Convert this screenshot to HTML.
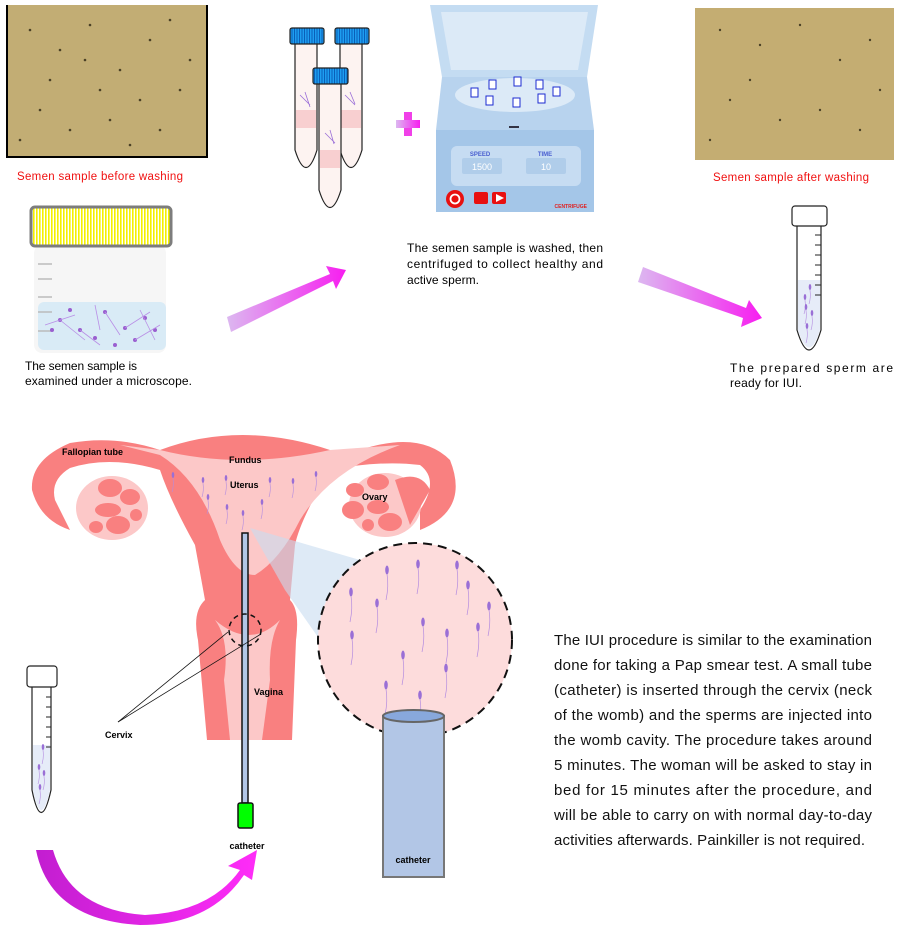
<!DOCTYPE html>
<html><head><meta charset="utf-8"><style>
html,body{margin:0;padding:0;background:#fff;}
svg{display:block;font-family:"Liberation Sans",sans-serif;}
.c{font-family:"Liberation Sans",sans-serif;}
</style></head><body>
<svg width="903" height="930" viewBox="0 0 903 930" xmlns="http://www.w3.org/2000/svg">
<defs>
<linearGradient id="ag" x1="0" y1="0" x2="1" y2="0"><stop offset="0" stop-color="#dcb8f0"/><stop offset="1" stop-color="#f71ef0"/></linearGradient>
<linearGradient id="cg" x1="0" y1="0" x2="1" y2="0"><stop offset="0" stop-color="#c21ed0"/><stop offset="1" stop-color="#ff2cf8"/></linearGradient>
<pattern id="yl" width="3" height="10" patternUnits="userSpaceOnUse"><rect width="3" height="10" fill="#fff"/><rect width="1.6" height="10" fill="#f4f000"/></pattern>
<pattern id="bl" width="2.5" height="10" patternUnits="userSpaceOnUse"><rect width="2.5" height="10" fill="#0a5fb8"/><rect width="1.5" height="10" fill="#1d9df0"/></pattern>
<g id="sp"><ellipse cx="0" cy="0" rx="1.8" ry="4.5" fill="#9a6fd6"/><path d="M0 4 q2 12 -1 26" stroke="#b48ce0" stroke-width="0.7" fill="none"/></g>
<g id="ss"><ellipse cx="0" cy="0" rx="1.3" ry="3" fill="#9a6fd6"/><path d="M0 3 q1 8 -1 14" stroke="#b48ce0" stroke-width="0.6" fill="none"/></g>
</defs>

<rect x="6" y="5" width="202" height="153" fill="#000"/>
<rect x="8" y="5" width="198" height="151" fill="#c2ad74"/>
<rect x="695" y="8" width="199" height="152" fill="#c4ad72"/>
<g fill="#4a4026">
<circle cx="30" cy="30" r="1.3"/><circle cx="60" cy="50" r="1.3"/><circle cx="90" cy="25" r="1.3"/><circle cx="120" cy="70" r="1.3"/><circle cx="150" cy="40" r="1.3"/><circle cx="180" cy="90" r="1.3"/><circle cx="40" cy="110" r="1.3"/><circle cx="70" cy="130" r="1.3"/><circle cx="110" cy="120" r="1.3"/><circle cx="160" cy="130" r="1.3"/><circle cx="190" cy="60" r="1.3"/><circle cx="50" cy="80" r="1.3"/><circle cx="140" cy="100" r="1.3"/><circle cx="100" cy="90" r="1.3"/><circle cx="20" cy="140" r="1.3"/><circle cx="85" cy="60" r="1.3"/><circle cx="170" cy="20" r="1.3"/><circle cx="130" cy="145" r="1.3"/>
<circle cx="720" cy="30" r="1.2"/><circle cx="760" cy="45" r="1.2"/><circle cx="800" cy="25" r="1.2"/><circle cx="840" cy="60" r="1.2"/><circle cx="870" cy="40" r="1.2"/><circle cx="730" cy="100" r="1.2"/><circle cx="780" cy="120" r="1.2"/><circle cx="820" cy="110" r="1.2"/><circle cx="860" cy="130" r="1.2"/><circle cx="750" cy="80" r="1.2"/><circle cx="880" cy="90" r="1.2"/><circle cx="710" cy="140" r="1.2"/>
</g>
<text x="100" y="180" font-size="11.5" fill="#f01010" text-anchor="middle" textLength="166">Semen sample before washing</text>
<text x="791" y="181" font-size="11.5" fill="#f01010" text-anchor="middle" textLength="156">Semen sample after washing</text>

<rect x="34" y="245" width="132" height="108" rx="8" fill="#f6f6f6"/>
<rect x="38" y="302" width="128" height="48" rx="6" fill="#d9ebf6"/>
<g stroke="#bbb" stroke-width="1.5"><line x1="38" y1="264" x2="52" y2="264"/><line x1="38" y1="279" x2="52" y2="279"/><line x1="38" y1="297" x2="52" y2="297"/><line x1="38" y1="312" x2="52" y2="312"/><line x1="38" y1="331" x2="52" y2="331"/></g>
<g fill="#9a5fd0"><circle cx="60" cy="320" r="2"/><circle cx="80" cy="330" r="2"/><circle cx="105" cy="312" r="2"/><circle cx="125" cy="328" r="2"/><circle cx="145" cy="318" r="2"/><circle cx="95" cy="338" r="2"/><circle cx="70" cy="310" r="2"/><circle cx="135" cy="340" r="2"/><circle cx="155" cy="330" r="2"/><circle cx="52" cy="330" r="2"/><circle cx="115" cy="345" r="2"/></g>
<g stroke="#b98ee6" stroke-width="0.8"><line x1="45" y1="325" x2="75" y2="315"/><line x1="80" y1="330" x2="100" y2="345"/><line x1="105" y1="312" x2="120" y2="335"/><line x1="125" y1="328" x2="150" y2="312"/><line x1="60" y1="320" x2="85" y2="340"/><line x1="135" y1="340" x2="160" y2="325"/><line x1="95" y1="305" x2="100" y2="330"/><line x1="140" y1="310" x2="155" y2="340"/></g>
<rect x="31" y="207" width="140" height="39" fill="url(#yl)" stroke="#7d7d7d" stroke-width="3" rx="4"/>
<text x="25" y="370" font-size="12" textLength="112">The semen sample is</text>
<text x="25" y="385" font-size="12" textLength="167">examined under a microscope.</text>

<polygon points="227,317 330,274 326,266 346,270 336,289 333,281 231,332" fill="url(#ag)"/>
<polygon points="643,267 746,308 749,300 762,318 741,327 743,318 638,282" fill="url(#ag)"/>

<g stroke="#222" stroke-width="1.2">
<path d="M295 44 L295 150 Q306 185 317 150 L317 44" fill="#fdf3f1"/>
<rect x="296" y="110" width="20" height="18" fill="#f8cfd0" stroke="none"/>
<path d="M340 44 L340 150 Q351 185 362 150 L362 44" fill="#fdf3f1"/>
<rect x="341" y="110" width="20" height="18" fill="#f8cfd0" stroke="none"/>
<path d="M319 84 L319 190 Q330 225 341 190 L341 84" fill="#fdf3f1"/>
<rect x="320" y="150" width="20" height="18" fill="#f8cfd0" stroke="none"/>
<rect x="290" y="28" width="34" height="16" rx="2" fill="url(#bl)"/>
<rect x="335" y="28" width="34" height="16" rx="2" fill="url(#bl)"/>
<rect x="313" y="68" width="35" height="16" rx="2" fill="url(#bl)"/>
</g>
<g stroke="#9b6fd8" stroke-width="0.8"><path d="M300 95 l10 10 M305 92 l5 15 M345 95 l10 10 M350 92 l5 12 M325 133 l10 10 M330 130 l4 14"/></g>
<rect x="404" y="112" width="8" height="24" fill="#f040e8"/><rect x="396" y="120" width="24" height="8" fill="url(#ag)"/>

<polygon points="430,5 598,5 587,77 442,77" fill="#c4dcf2"/>
<polygon points="441,12 588,12 578,70 451,70" fill="#dceaf7"/>
<polygon points="442,77 587,77 594,130 436,130" fill="#b8d3ee"/>
<ellipse cx="515" cy="95" rx="60" ry="17" fill="#dceaf7"/>
<g fill="#fff" stroke="#1b2bd0" stroke-width="1"><rect x="471" y="88" width="7" height="9"/><rect x="489" y="80" width="7" height="9"/><rect x="514" y="77" width="7" height="9"/><rect x="536" y="80" width="7" height="9"/><rect x="553" y="87" width="7" height="9"/><rect x="486" y="96" width="7" height="9"/><rect x="513" y="98" width="7" height="9"/><rect x="538" y="94" width="7" height="9"/></g>
<rect x="509" y="126" width="10" height="2" fill="#334"/>
<rect x="436" y="130" width="158" height="82" fill="#a4c6e8"/>
<rect x="451" y="146" width="130" height="40" rx="6" fill="#c6dcf2"/>
<text x="480" y="156" font-size="6" fill="#4a5fd0" text-anchor="middle" font-weight="bold">SPEED</text>
<text x="545" y="156" font-size="6" fill="#4a5fd0" text-anchor="middle" font-weight="bold">TIME</text>
<rect x="462" y="158" width="40" height="16" rx="2" fill="#b0cdea"/><rect x="526" y="158" width="40" height="16" rx="2" fill="#b0cdea"/>
<text x="482" y="170" font-size="9" fill="#fff" text-anchor="middle">1500</text>
<text x="546" y="170" font-size="9" fill="#fff" text-anchor="middle">10</text>
<circle cx="455" cy="199" r="9" fill="#e81010"/><circle cx="455" cy="199" r="4.5" fill="none" stroke="#fff" stroke-width="1.8"/>
<rect x="474" y="192" width="14" height="12" rx="2" fill="#e81010"/><rect x="492" y="192" width="14" height="12" rx="2" fill="#e81010"/>
<polygon points="496,194 504,198 496,202" fill="#fff"/>
<text x="587" y="208" font-size="5" fill="#e02020" text-anchor="end" font-weight="bold">CENTRIFUGE</text>
<g font-size="12"><text x="407" y="252" textLength="196">The semen sample is washed, then</text>
<text x="407" y="268" textLength="196">centrifuged to collect healthy and</text>
<text x="407" y="284" textLength="72">active sperm.</text></g>

<path d="M797 226 L797 330 Q809 370 821 330 L821 226" fill="#fff" stroke="#222" stroke-width="1.2"/>
<path d="M798 280 L820 280 L820 330 Q809 365 798 330 Z" fill="#e6ecf8"/>
<rect x="792" y="206" width="35" height="20" rx="3" fill="#fff" stroke="#222" stroke-width="1.2"/>
<g stroke="#222"><path d="M815 235h6M815 245h6M815 255h6M815 265h6M815 275h6M815 285h6M815 295h6"/></g>
<g><use href="#ss" x="810" y="287"/><use href="#ss" x="805" y="297"/><use href="#ss" x="806" y="307"/><use href="#ss" x="812" y="313"/><use href="#ss" x="807" y="326"/></g>
<g font-size="12"><text x="730" y="372" textLength="163">The prepared sperm are</text><text x="730" y="387" textLength="72">ready for IUI.</text></g>

<g fill="#f98080">
<path d="M160 450 Q240 420 330 450 L360 450 Q420 430 450 460 Q470 510 420 530 L420 510 Q440 480 420 465 Q380 460 330 470 Q300 520 295 545 L290 600 Q300 610 296 640 L292 740 L207 740 L198 640 Q192 612 205 600 L195 545 Q170 500 160 470 Q110 455 70 468 Q50 480 55 500 L70 530 Q40 520 32 490 Q30 460 70 443 Q115 435 160 450 Z"/>
</g>
<path d="M160 450 Q240 470 330 450 L400 445 Q330 470 300 520 Q280 560 255 575 Q235 575 220 540 Q200 480 160 455 L120 445 Z" fill="#fcc8c8"/>
<path d="M215 620 Q230 640 224 680 L230 740 L262 740 L270 680 Q268 640 280 620 Q250 650 215 620 Z" fill="#fcc8c8"/>
<ellipse cx="112" cy="508" rx="36" ry="32" fill="#fcc8c8"/>
<ellipse cx="385" cy="505" rx="36" ry="32" fill="#fcc8c8"/>
<g fill="#f98080"><ellipse cx="110" cy="488" rx="12" ry="9"/><ellipse cx="130" cy="497" rx="10" ry="8"/><ellipse cx="108" cy="510" rx="13" ry="7"/><ellipse cx="118" cy="525" rx="12" ry="9"/><ellipse cx="96" cy="527" rx="7" ry="6"/><ellipse cx="136" cy="515" rx="6" ry="6"/>
<ellipse cx="378" cy="482" rx="11" ry="8"/><ellipse cx="355" cy="490" rx="9" ry="7"/><ellipse cx="353" cy="510" rx="11" ry="9"/><ellipse cx="378" cy="507" rx="11" ry="7"/><ellipse cx="390" cy="522" rx="12" ry="9"/><ellipse cx="368" cy="525" rx="6" ry="6"/><path d="M395 480 Q420 470 430 490 L410 525 Z"/></g>
<g><use href="#ss" x="173" y="475"/><use href="#ss" x="203" y="480"/><use href="#ss" x="226" y="478"/><use href="#ss" x="270" y="480"/><use href="#ss" x="293" y="481"/><use href="#ss" x="316" y="474"/><use href="#ss" x="208" y="497"/><use href="#ss" x="227" y="507"/><use href="#ss" x="243" y="513"/><use href="#ss" x="262" y="502"/></g>
<polygon points="250,528 360,560 320,640 285,590" fill="#c8dcf0" opacity="0.6"/>
<circle cx="415" cy="640" r="97" fill="#fddcdc" stroke="#111" stroke-width="2" stroke-dasharray="9,6"/>
<g><use href="#sp" x="418" y="564"/><use href="#sp" x="387" y="570"/><use href="#sp" x="351" y="592"/><use href="#sp" x="377" y="603"/><use href="#sp" x="457" y="565"/><use href="#sp" x="468" y="585"/><use href="#sp" x="489" y="606"/><use href="#sp" x="352" y="635"/><use href="#sp" x="423" y="622"/><use href="#sp" x="447" y="633"/><use href="#sp" x="478" y="627"/><use href="#sp" x="403" y="655"/><use href="#sp" x="446" y="668"/><use href="#sp" x="386" y="685"/><use href="#sp" x="420" y="695"/></g>
<rect x="383" y="716" width="61" height="161" fill="#b2c6e6" stroke="#777" stroke-width="2"/>
<ellipse cx="413.5" cy="716" rx="30.5" ry="6" fill="#88a8dc" stroke="#666" stroke-width="2"/>
<text x="413" y="863" font-size="9" text-anchor="middle" font-weight="bold">catheter</text>
<rect x="242" y="533" width="6" height="270" fill="#b2c6e6" stroke="#111" stroke-width="1.5"/>
<rect x="238" y="803" width="15" height="25" rx="2" fill="#00ff00" stroke="#111" stroke-width="1.5"/>
<text x="247" y="849" font-size="9" text-anchor="middle" font-weight="bold">catheter</text>
<circle cx="245" cy="630" r="16" fill="none" stroke="#111" stroke-width="1.5" stroke-dasharray="5,4"/>
<g stroke="#111" stroke-width="0.8"><line x1="118" y1="722" x2="228" y2="632"/><line x1="118" y1="722" x2="261" y2="634"/></g>
<g font-size="9" font-weight="bold"><text x="62" y="455">Fallopian tube</text><text x="229" y="463">Fundus</text><text x="230" y="488">Uterus</text><text x="362" y="500">Ovary</text><text x="254" y="695">Vagina</text><text x="105" y="738">Cervix</text></g>
<path d="M32 687 L32 790 Q41 835 51 790 L51 687" fill="#fff" stroke="#222" stroke-width="1.2"/>
<path d="M33 745 L50 745 L50 790 Q41 830 33 790 Z" fill="#e6ecf8"/>
<rect x="27" y="666" width="30" height="21" rx="3" fill="#fff" stroke="#222" stroke-width="1.2"/>
<g stroke="#222"><path d="M46 697h5M46 707h5M46 717h5M46 727h5M46 737h5M46 747h5"/></g>
<g><use href="#ss" x="43" y="747"/><use href="#ss" x="39" y="767"/><use href="#ss" x="44" y="773"/><use href="#ss" x="40" y="787"/></g>
<path d="M36 850 L53 850 Q70 910 145 915 Q210 912 240 870 L228 866 L257 850 L252 880 L244 875 Q210 925 140 925 Q50 920 36 850 Z" fill="url(#cg)"/>
<g font-size="15" fill="#111">
<text x="554" y="645" textLength="318">The IUI procedure is similar to the examination</text>
<text x="554" y="670" textLength="318">done for taking a Pap smear test. A small tube</text>
<text x="554" y="695" textLength="318">(catheter) is inserted through the cervix (neck</text>
<text x="554" y="720" textLength="318">of the womb) and the sperms are injected into</text>
<text x="554" y="745" textLength="318">the womb cavity. The procedure takes around</text>
<text x="554" y="770" textLength="318">5 minutes. The woman will be asked to stay in</text>
<text x="554" y="795" textLength="318">bed for 15 minutes after the procedure, and</text>
<text x="554" y="820" textLength="318">will be able to carry on with normal day-to-day</text>
<text x="554" y="845" textLength="311">activities afterwards. Painkiller is not required.</text>
</g>
</svg>
</body></html>
